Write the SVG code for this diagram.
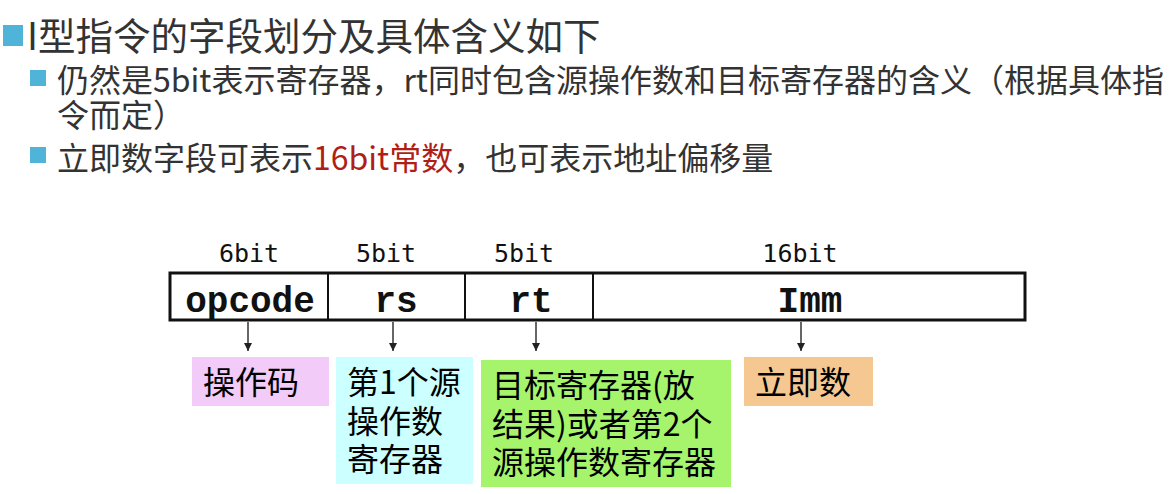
<svg xmlns="http://www.w3.org/2000/svg" width="1171" height="494" viewBox="0 0 1171 494">
<defs>
<style>
.hdr{font-family:"Noto Sans CJK SC","Noto Sans",sans-serif;fill:#333333;}
.red{fill:#B01E16;}
.bul{fill:#4FB4D8;}
.bits{font-family:"DejaVu Sans Mono","Liberation Mono",monospace;font-size:25px;fill:#111;text-anchor:middle;}
.fld{font-family:"Liberation Mono","Courier New",monospace;font-weight:bold;font-size:36px;fill:#111;text-anchor:middle;}
.lbl{font-family:"Noto Sans CJK SC","Noto Sans",sans-serif;font-size:32px;fill:#000;}
.conn{stroke:#333;stroke-width:1.5;fill:none;marker-end:url(#ah);}
</style>
<marker id="ah" viewBox="0 0 10 10" refX="10" refY="5" markerWidth="8" markerHeight="8" markerUnits="userSpaceOnUse" orient="auto">
<path d="M0,0 L10,5 L0,10 z" fill="#222"/>
</marker>
</defs>
<rect width="1171" height="494" fill="#ffffff"/>

<g id="header">
<rect class="bul" x="3" y="25" width="20" height="21"/>
<text class="hdr" x="27" y="50" font-size="37.5">I型指令的字段划分及具体含义如下</text>
<rect class="bul" x="30" y="70" width="16" height="16"/>
<text class="hdr" x="57" y="92" font-size="32">仍然是5bit表示寄存器，rt同时包含源操作数和目标寄存器的含义（根据具体指</text>
<text class="hdr" x="57" y="127" font-size="32">令而定）</text>
<rect class="bul" x="30" y="147" width="16" height="16"/>
<text class="hdr" x="57" y="170" font-size="32">立即数字段可表示<tspan class="red">16bit常数</tspan>，也可表示地址偏移量</text>
</g>

<g id="bit-labels">
<text class="bits" x="249" y="262">6bit</text>
<text class="bits" x="386" y="262">5bit</text>
<text class="bits" x="524" y="262">5bit</text>
<text class="bits" x="800" y="262">16bit</text>
</g>

<g id="instruction-format">
<rect x="170" y="273" width="855" height="47" fill="#fff" stroke="#111" stroke-width="3"/>
<line x1="328" y1="273" x2="328" y2="320" stroke="#111" stroke-width="2"/>
<line x1="465" y1="273" x2="465" y2="320" stroke="#111" stroke-width="2"/>
<line x1="593" y1="273" x2="593" y2="320" stroke="#111" stroke-width="2"/>
<text class="fld" x="250" y="312">opcode</text>
<text class="fld" x="396" y="312">rs</text>
<text class="fld" x="531" y="312">rt</text>
<text class="fld" x="810" y="312">Imm</text>
</g>

<g id="connectors">
<line class="conn" x1="248" y1="322" x2="248" y2="351"/>
<line class="conn" x1="393" y1="322" x2="393" y2="351"/>
<line class="conn" x1="536" y1="322" x2="536" y2="351"/>
<line class="conn" x1="801" y1="322" x2="801" y2="351"/>
</g>

<g id="node-opcode">
<rect x="192" y="357" width="137" height="49" fill="#F2CBF8"/>
<text class="lbl" x="203" y="394">操作码</text>
</g>

<g id="node-rs">
<rect x="336" y="357" width="137" height="127" fill="#CCFFFF"/>
<text class="lbl" x="347" y="394">第1个源</text>
<text class="lbl" x="347" y="432.5">操作数</text>
<text class="lbl" x="347" y="471">寄存器</text>
</g>

<g id="node-rt">
<rect x="481" y="360" width="250" height="127" fill="#A6F46C"/>
<text class="lbl" x="492" y="397">目标寄存器(放</text>
<text class="lbl" x="492" y="436">结果)或者第2个</text>
<text class="lbl" x="492" y="474">源操作数寄存器</text>
</g>

<g id="node-imm">
<rect x="744" y="357" width="129" height="49" fill="#F5C892"/>
<text class="lbl" x="755" y="394">立即数</text>
</g>
</svg>
